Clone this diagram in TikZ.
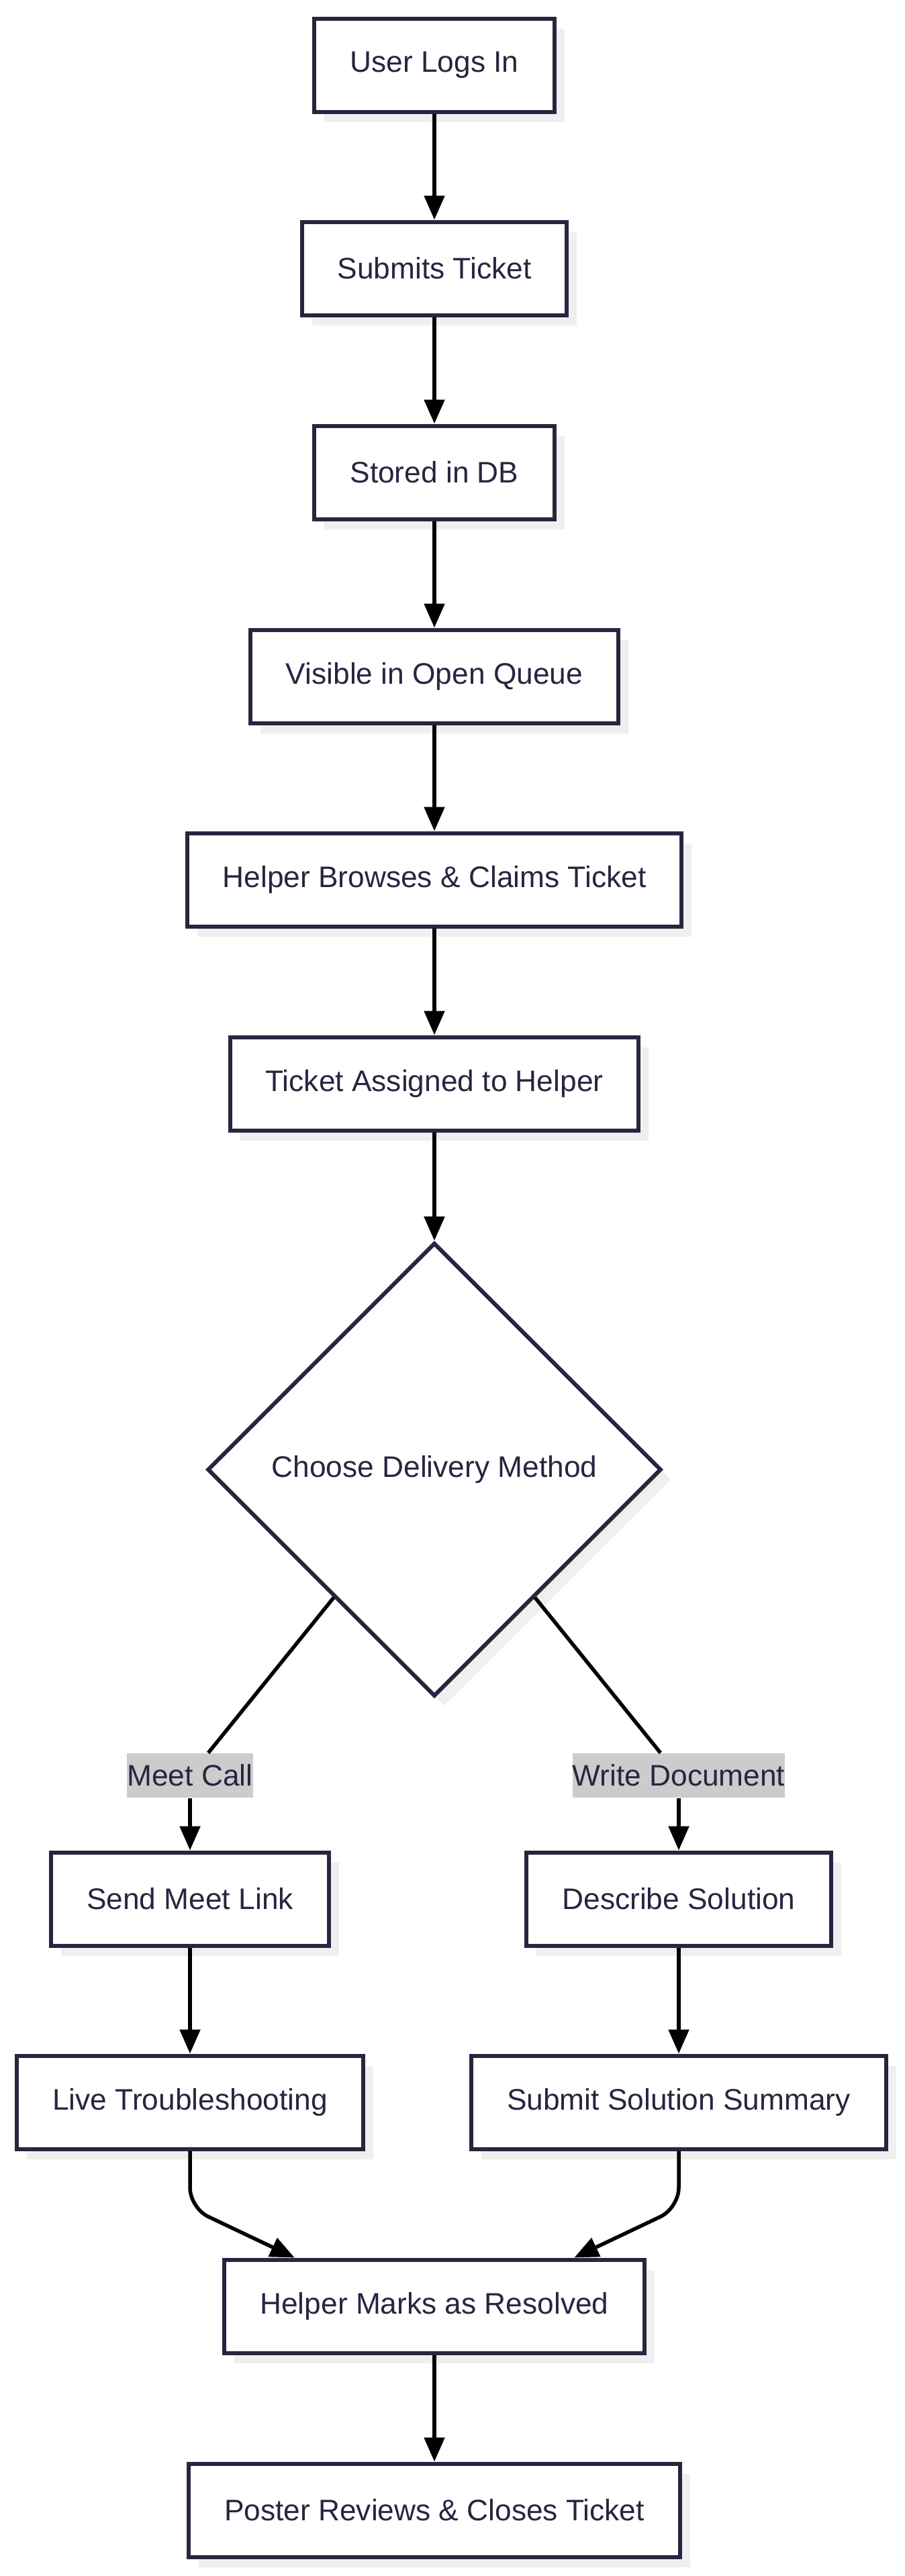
\documentclass[tikz,border=0pt]{standalone}
\usepackage{fontspec}
\setmainfont{Liberation Sans}
\usepackage{tikz}
\usetikzlibrary{calc,arrows.meta,shapes.geometric,shadows}
\definecolor{ink}{HTML}{272640}
\definecolor{edge}{HTML}{000000}
\definecolor{shade}{HTML}{EFEFEF}
\definecolor{tag}{HTML}{CCCCCC}
\tikzset{
  proc/.style={draw=ink, line width=0.06cm, fill=white, text=ink, inner xsep=0.53cm,
    minimum height=1.39cm, font=\fontsize{12.6pt}{15pt}\selectfont,
    drop shadow={shadow xshift=0.15cm, shadow yshift=-0.15cm, fill=shade, opacity=1}},
  decide/.style={proc, diamond, aspect=1, inner sep=0pt, minimum width=6.76cm, minimum height=6.76cm},
  tagbox/.style={fill=tag, text=ink, inner sep=0pt, minimum height=0.66cm,
    font=\fontsize{12.6pt}{15pt}\selectfont},
  link/.style={draw=edge, line width=0.055cm},
  arr/.style={link, -{Triangle[length=0.36cm,width=0.3cm]}}
}

\begin{document}
\begin{tikzpicture}
  \useasboundingbox (0,0) rectangle (13.47,-38.39);
  \fill[white] (0,0) rectangle (13.47,-38.39);

  \node[proc] (login) at (6.47,-0.97) {User Logs In};
  \node[proc] (submit) at (6.47,-4.00) {Submits Ticket};
  \node[proc] (stored) at (6.47,-7.04) {Stored in DB};
  \node[proc] (queue) at (6.47,-10.08) {Visible in Open Queue};
  \node[proc] (claim) at (6.47,-13.11) {Helper Browses \& Claims Ticket};
  \node[proc] (assign) at (6.47,-16.15) {Ticket Assigned to Helper};
  \node[decide] (choose) at (6.47,-21.90) {Choose Delivery Method};

  \node[tagbox] (meet) at (2.83,-26.46) {Meet Call};
  \node[tagbox] (write) at (10.11,-26.46) {Write Document};

  \node[proc] (sendlink) at (2.83,-28.30) {Send Meet Link};
  \node[proc] (describe) at (10.11,-28.30) {Describe Solution};
  \node[proc] (live) at (2.83,-31.33) {Live Troubleshooting};
  \node[proc] (summary) at (10.11,-31.33) {Submit Solution Summary};
  \node[proc] (resolved) at (6.47,-34.37) {Helper Marks as Resolved};
  \node[proc] (close) at (6.47,-37.41) {Poster Reviews \& Closes Ticket};

  % main line
  \draw[arr] (login) -- (submit);
  \draw[arr] (submit) -- (stored);
  \draw[arr] (stored) -- (queue);
  \draw[arr] (queue) -- (claim);
  \draw[arr] (claim) -- (assign);
  \draw[arr] (assign) -- (choose);

  % branches
  \draw[link] ($(choose.west)!0.56!(choose.south)$) -- (meet);
  \draw[arr] (meet.south) -- (sendlink.north);
  \draw[link] ($(choose.east)!0.56!(choose.south)$) -- (write);
  \draw[arr] (write.south) -- (describe.north);
  \draw[arr] (sendlink) -- (live);
  \draw[arr] (describe) -- (summary);

  % merge
  \draw[arr, rounded corners=0.3cm] (live.south) -- ++(0,-0.85)
    -- ($(resolved.north west)!0.17!(resolved.north east)$);
  \draw[arr, rounded corners=0.3cm] (summary.south) -- ++(0,-0.85)
    -- ($(resolved.north west)!0.83!(resolved.north east)$);
  \draw[arr] (resolved) -- (close);
\end{tikzpicture}
\end{document}
